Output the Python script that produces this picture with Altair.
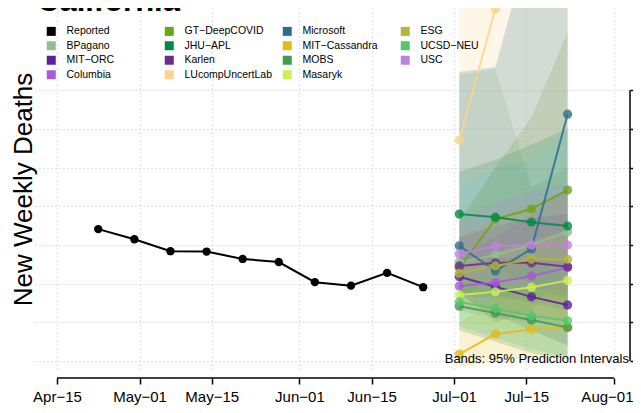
import altair as alt
import pandas as pd

TITLE = "California"
Y_TITLE = "New Weekly Deaths"
NOTE = "Bands: 95% Prediction Intervals"

reported_dates = ["2020-04-23", "2020-04-30", "2020-05-07", "2020-05-14", "2020-05-21",
                  "2020-05-28", "2020-06-04", "2020-06-11", "2020-06-18", "2020-06-25"]
reported_values = [541, 515, 484, 483, 464, 456, 404, 395, 428, 391]

forecast_dates = ["2020-07-02", "2020-07-09", "2020-07-16", "2020-07-23"]

# point forecasts per model
fc_point = {
    "BPagano":         [456, 474, 500, 534],
    "MIT−ORC":         [418, 392, 366, 345],
    "Columbia":        [394, 403, 420, 442],
    "GT−DeepCOVID":    [441, 567, 593, 642],
    "JHU−APL":         [580, 572, 559, 549],
    "Karlen":          [446, 454, 454, 444],
    "LUcompUncertLab": [771, 1110, 1450, 1800],
    "Microsoft":       [498, 433, 490, 838],
    "MIT−Cassandra":   [218, 270, 282, 287],
    "MOBS":            [342, 324, 306, 287],
    "Masaryk":         [371, 379, 391, 408],
    "ESG":             [427, 446, 463, 463],
    "UCSD−NEU":        [353, 336, 317, 304],
    "USC":             [477, 497, 500, 500],
}
# 95% prediction interval lower bounds
fc_lower = {
    "BPagano":         [370, 360, 360, 370],
    "MIT−ORC":         [370, 320, 280, 240],
    "Columbia":        [330, 310, 300, 290],
    "GT−DeepCOVID":    [360, 420, 400, 380],
    "JHU−APL":         [480, 440, 400, 360],
    "Karlen":          [380, 370, 350, 330],
    "LUcompUncertLab": [650, 700, 720, 800],
    "Microsoft":       [380, 300, 330, 450],
    "MIT−Cassandra":   [185, 200, 210, 215],
    "MOBS":            [280, 250, 220, 205],
    "Masaryk":         [300, 290, 280, 280],
    "ESG":             [340, 330, 320, 300],
    "UCSD−NEU":        [290, 260, 230, 210],
    "USC":             [400, 400, 390, 380],
}
# 95% prediction interval upper bounds
fc_upper = {
    "BPagano":         [940, 955, 650, 700],
    "MIT−ORC":         [470, 470, 460, 460],
    "Columbia":        [470, 520, 580, 650],
    "GT−DeepCOVID":    [560, 700, 830, 1050],
    "JHU−APL":         [690, 720, 760, 800],
    "Karlen":          [520, 550, 570, 580],
    "LUcompUncertLab": [1300, 1800, 2200, 2600],
    "Microsoft":       [947, 960, 1300, 1700],
    "MIT−Cassandra":   [300, 360, 380, 400],
    "MOBS":            [420, 420, 420, 420],
    "Masaryk":         [450, 480, 510, 540],
    "ESG":             [520, 570, 610, 640],
    "UCSD−NEU":        [430, 440, 440, 450],
    "USC":             [560, 610, 640, 660],
}

# legend entries in the reference's order (filled column by column, 4 rows)
legend_order = ["Reported", "BPagano", "MIT−ORC", "Columbia",
                "GT−DeepCOVID", "JHU−APL", "Karlen", "LUcompUncertLab",
                "Microsoft", "MIT−Cassandra", "MOBS", "Masaryk",
                "ESG", "UCSD−NEU", "USC"]
legend_colors = ["#000000", "#8fbf8f", "#5a209e", "#a85ad8",
                 "#6aa51c", "#008a45", "#6a2c8f", "#f9d58c",
                 "#2e6e8c", "#e6b91a", "#419a50", "#cdf055",
                 "#b2b634", "#52c86a", "#c080e0"]

y_ticks = [200, 300, 400, 500, 600, 700, 800, 900]

W, H = 595, 362

rep = pd.DataFrame({"date": reported_dates, "value": reported_values, "model": "Reported"})
rows = []
for m in fc_point:
    for i, d in enumerate(forecast_dates):
        rows.append({"date": d, "model": m, "value": fc_point[m][i],
                     "lo": fc_lower[m][i], "hi": fc_upper[m][i]})
fc = pd.DataFrame(rows)

FONT = "Liberation Sans"
GRID = "#c4c4c4"

def dt(mo, d, h=0, mi=0):
    return alt.DateTime(year=2020, month=mo, date=d, hours=h, minutes=mi, utc=True)

x_ticks = [dt(4, 15), dt(5, 1), dt(5, 15), dt(6, 1), dt(6, 15), dt(7, 1), dt(7, 15), dt(8, 1)]
x_scale = alt.Scale(type="utc", domain=[dt(4, 10, 17, 37), dt(8, 4, 2, 24)])
x_axis = alt.Axis(values=x_ticks, format="%b−%d", labelFont=FONT, labelFontSize=15,
                  labelColor="black", tickColor="black", tickSize=6, tickWidth=1.5,
                  domain=False, grid=True, gridColor=GRID, gridDash=[1, 3],
                  offset=8, title=None, labelPadding=5, labelFlush=20,
                  labelFlushOffset=19, labelOverlap=False)
x_enc = alt.X("date:T", scale=x_scale, axis=x_axis)

y_scale = alt.Scale(domain=[177, 1112.4], nice=False, zero=False)
left_axis = alt.Axis(orient="left", values=y_ticks, labels=False, ticks=False,
                     domain=False, grid=True, gridColor=GRID, gridDash=[1, 3],
                     title=Y_TITLE, titleFont=FONT, titleFontSize=26,
                     titleFontWeight="normal", titleColor="black",
                     titleBaseline="alphabetic", titlePadding=4)
right_axis = alt.Axis(orient="right", values=y_ticks, labels=False, ticks=True,
                      tickSize=8, tickColor="black", tickWidth=1.5, domain=False,
                      grid=False, title=None)

color_scale = alt.Scale(domain=legend_order, range=legend_colors)
legend = alt.Legend(orient="none", legendX=11, legendY=18, columns=4,
                    symbolType="square", symbolSize=81, symbolStrokeWidth=0,
                    symbolOpacity=1, labelFont=FONT, labelFontSize=10.5,
                    labelColor="black", labelOffset=10, columnPadding=9,
                    rowPadding=3.5, gridAlign="all", title=None, padding=0,
                    labelLimit=200)
color_enc = alt.Color("model:N", scale=color_scale, legend=legend)

bands = alt.Chart(fc).mark_area(opacity=0.2, clip=True).encode(
    x=x_enc,
    y=alt.Y("lo:Q", scale=y_scale, axis=left_axis, stack=None),
    y2="hi:Q",
    color=color_enc,
)

fc_lines = alt.Chart(fc).mark_line(strokeWidth=2, opacity=0.85, clip=True).encode(
    x=x_enc,
    y=alt.Y("value:Q", scale=y_scale, axis=None),
    color=color_enc,
)
fc_points = alt.Chart(fc).mark_point(filled=True, size=85, opacity=0.8, clip=True).encode(
    x=x_enc,
    y=alt.Y("value:Q", scale=y_scale, axis=None),
    color=color_enc,
)

rep_line = alt.Chart(rep).mark_line(strokeWidth=2, color="black").encode(
    x=x_enc, y=alt.Y("value:Q", scale=y_scale, axis=None))
rep_points = alt.Chart(rep).mark_point(filled=True, size=70, opacity=1, color="black").encode(
    x=x_enc, y=alt.Y("value:Q", scale=y_scale, axis=None))

x_line = alt.Chart(pd.DataFrame({"a": ["2020-04-15"], "b": ["2020-08-01"]})).mark_rule(
    color="black", strokeWidth=1.5).encode(
    x=alt.X("a:T", scale=x_scale, axis=x_axis), x2="b:T", y=alt.value(H + 8))

y_right = alt.Chart(pd.DataFrame({"lo": [200], "hi": [900]})).mark_rule(
    color="black", strokeWidth=1.5).encode(
    y=alt.Y("lo:Q", scale=y_scale, axis=right_axis), y2="hi:Q", x=alt.value(W))

title_txt = alt.Chart(pd.DataFrame({"t": [TITLE]})).mark_text(
    font=FONT, fontSize=31, fontWeight="bold", align="left", baseline="alphabetic",
    color="black").encode(text="t:N", x=alt.value(2), y=alt.value(3))

note_txt = alt.Chart(pd.DataFrame({"t": [NOTE]})).mark_text(
    font=FONT, fontSize=13, align="right", baseline="middle", color="black").encode(
    text="t:N", x=alt.value(W - 1), y=alt.value(351))

chart = alt.layer(
    bands, rep_line, rep_points, fc_lines, fc_points, x_line, y_right, title_txt, note_txt
).resolve_scale(y="shared").resolve_axis(y="independent").properties(
    width=W, height=H,
    autosize=alt.AutoSizeParams(type="none"),
    padding={"left": 27, "top": 0, "right": 3, "bottom": 35},
    background="white",
).configure_view(stroke=None)

chart.save("out.html", embed_options={"renderer": "svg", "actions": False})
